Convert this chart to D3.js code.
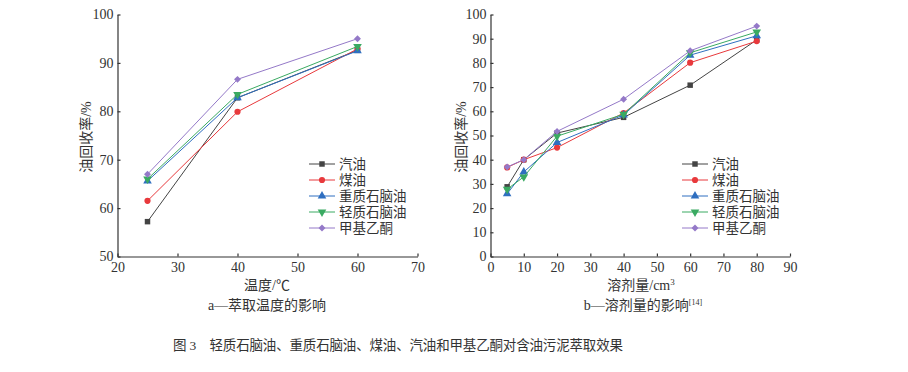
<!DOCTYPE html>
<html>
<head>
<meta charset="utf-8">
<script src="https://cdn.jsdelivr.net/npm/d3@7"></script>
<style>
  body { margin: 0; background: #fff; }
  svg { display: block; }
  .tick text { font-family: "Liberation Serif", "Noto Sans CJK SC", serif; font-size: 14px; fill: #333; }
  .cjk { font-family: "Liberation Serif", "Noto Sans CJK SC", sans-serif; fill: #333; }
</style>
</head>
<body>
<svg width="908" height="372"></svg>
<script>
// series names + colours (same order in both panels)
const seriesNames = ["汽油", "煤油", "重质石脑油", "轻质石脑油", "甲基乙酮"];
const seriesColors = ["#444444", "#e8393c", "#2f6fc0", "#3aaa62", "#9479c8"];
const seriesSymbols = [d3.symbolSquare, d3.symbolCircle, d3.symbolTriangle, d3.symbolTriangle, d3.symbolSquare];
const seriesRotate = [0, 0, 0, 180, 45];

// panel a: temperature
const tempX = [25, 40, 60];
const gasolineA = [57.2, 82.8, 92.6];
const keroseneA = [61.5, 79.9, 92.9];
const heavyNaphthaA = [65.6, 82.8, 92.5];
const lightNaphthaA = [66.0, 83.5, 93.4];
const mekA = [67.0, 86.6, 95.0];

// panel b: solvent volume
const volX = [5, 10, 20, 40, 60, 80];
const gasolineB = [28.8, 40.0, 51.0, 57.5, 70.8, 89.5];
const keroseneB = [36.8, 40.0, 45.0, 59.3, 80.1, 89.0];
const heavyNaphthaB = [25.9, 34.9, 47.1, 58.5, 83.2, 91.2];
const lightNaphthaB = [27.8, 32.9, 49.7, 58.8, 84.2, 92.8];
const mekB = [37.0, 40.0, 51.7, 65.0, 85.0, 95.2];

const ticksXA = [20, 30, 40, 50, 60, 70];
const ticksYA = [50, 60, 70, 80, 90, 100];
const ticksXB = [0, 10, 20, 30, 40, 50, 60, 70, 80, 90];
const ticksYB = [0, 10, 20, 30, 40, 50, 60, 70, 80, 90, 100];

let svg = d3.select("svg");

function symbolSize(k) {
  if (k === 2 || k === 3) return 32;
  if (k === 4) return 24;
  return 30;
}

function panel(opts) {
  let x = d3.scaleLinear().domain(opts.xDomain).range(opts.xRange);
  let y = d3.scaleLinear().domain(opts.yDomain).range([256.5, 14.5]);
  let g = svg.append("g");

  let xAxis = d3.axisBottom(x).tickValues(opts.xTicks).tickSizeInner(-3).tickSizeOuter(0).tickPadding(4);
  let yAxis = d3.axisLeft(y).tickValues(opts.yTicks).tickSizeInner(-3).tickSizeOuter(0).tickPadding(4);

  let gx = g.append("g").attr("transform", "translate(0,256.5)").call(xAxis);
  g.append("g").attr("transform", "translate(" + opts.xRange[0] + ",0)").call(yAxis);
  g.selectAll(".domain, .tick line").attr("stroke", "#333").attr("stroke-width", 1.2);
  g.selectAll(".tick text").attr("fill", "#333");
  gx.selectAll(".tick text").attr("dy", "0.85em");

  let line = d3.line().x((d, i) => x(opts.xs[i])).y(d => y(d));

  opts.series.forEach(function(vals, k) {
    g.append("path")
      .attr("d", line(vals))
      .attr("fill", "none")
      .attr("stroke", seriesColors[k])
      .attr("stroke-width", 1);
    g.selectAll(null)
      .data(vals)
      .enter()
      .append("path")
      .attr("d", d3.symbol().type(seriesSymbols[k]).size(symbolSize(k)))
      .attr("transform", (d, i) => "translate(" + x(opts.xs[i]) + "," + y(d) + ") rotate(" + seriesRotate[k] + ")")
      .attr("fill", seriesColors[k]);
  });

  // legend
  let lg = g.append("g").attr("transform", "translate(" + opts.legendX + ",164)");
  seriesNames.forEach(function(name, k) {
    let row = lg.append("g").attr("transform", "translate(0," + (k * 16) + ")");
    row.append("line").attr("x1", 0).attr("x2", 26).attr("stroke", seriesColors[k]).attr("stroke-width", 1);
    row.append("path")
      .attr("d", d3.symbol().type(seriesSymbols[k]).size(symbolSize(k)))
      .attr("transform", "translate(13,0) rotate(" + seriesRotate[k] + ")")
      .attr("fill", seriesColors[k]);
    row.append("text").attr("class", "cjk").attr("x", 30).attr("dy", "0.36em")
      .style("font-size", "13.5px").text(name);
  });

  // axis titles
  g.append("text").attr("class", "cjk")
    .attr("transform", "translate(" + opts.yLabelX + ",137) rotate(-90)")
    .attr("text-anchor", "middle").attr("dy", "0.36em")
    .style("font-size", "14px").text("油回收率/%");
  let xl = g.append("text").attr("class", "cjk")
    .attr("x", opts.xLabelX).attr("y", 290)
    .attr("text-anchor", "middle").style("font-size", "14px");
  xl.text(opts.xLabel);
  if (opts.xLabelSup) {
    xl.append("tspan").attr("dy", -5).style("font-size", "9px").text(opts.xLabelSup);
  }
  let st = g.append("text").attr("class", "cjk")
    .attr("x", opts.subX).attr("y", 310)
    .attr("text-anchor", "middle").style("font-size", "14px");
  st.text(opts.sub);
  if (opts.subSup) {
    st.append("tspan").attr("dy", -5).style("font-size", "8px").text(opts.subSup);
  }
}

panel({
  xDomain: [20, 70], xRange: [117.5, 417.5], yDomain: [50, 100],
  xTicks: ticksXA, yTicks: ticksYA, xs: tempX,
  series: [gasolineA, keroseneA, heavyNaphthaA, lightNaphthaA, mekA],
  legendX: 309, yLabelX: 86, xLabelX: 267, xLabel: "温度/℃",
  subX: 267, sub: "a—萃取温度的影响"
});

panel({
  xDomain: [0, 90], xRange: [490.5, 790], yDomain: [0, 100],
  xTicks: ticksXB, yTicks: ticksYB, xs: volX,
  series: [gasolineB, keroseneB, heavyNaphthaB, lightNaphthaB, mekB],
  legendX: 682, yLabelX: 461, xLabelX: 641, xLabel: "溶剂量/cm", xLabelSup: "3",
  subX: 643, sub: "b—溶剂量的影响", subSup: "[14]"
});

// figure caption
svg.append("text").attr("class", "cjk")
  .attr("x", 173).attr("y", 350)
  .attr("textLength", 450).attr("lengthAdjust", "spacing")
  .style("font-size", "13.5px")
  .text("图 3　轻质石脑油、重质石脑油、煤油、汽油和甲基乙酮对含油污泥萃取效果");
</script>
</body>
</html>
